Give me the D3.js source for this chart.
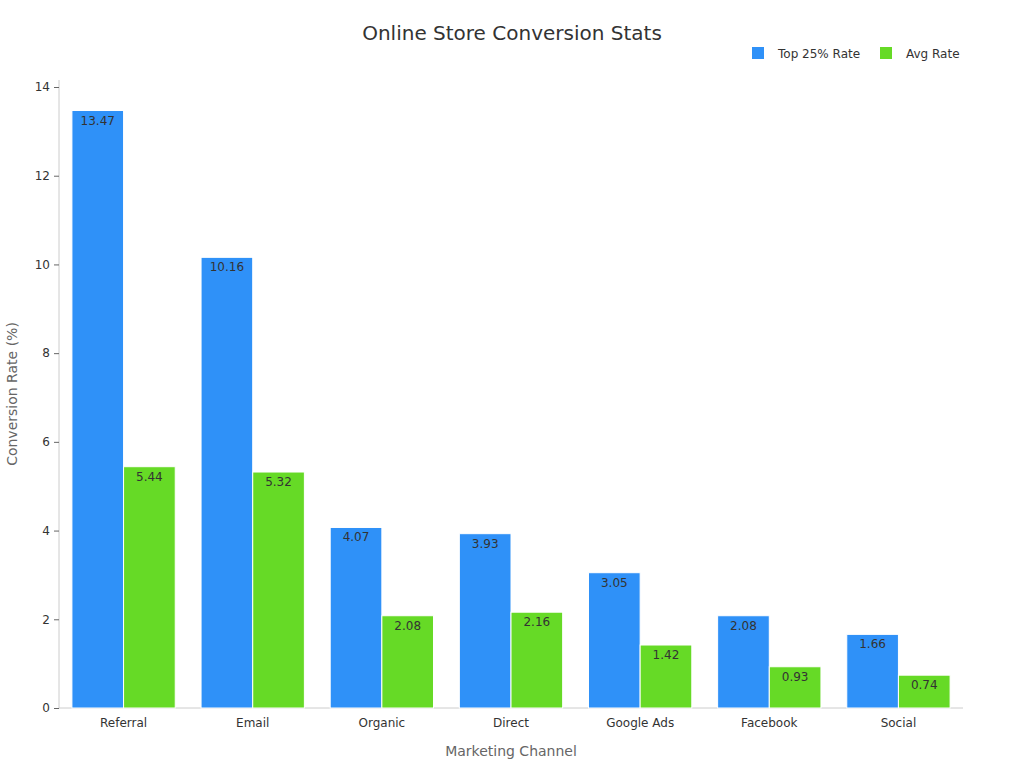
<!DOCTYPE html>
<html><head><meta charset="utf-8">
<script src="https://cdn.jsdelivr.net/npm/d3@7"></script>
<style>body{margin:0;background:#fff;font-family:"DejaVu Sans",sans-serif;}</style>
</head><body>
<script>
var channels = ['Referral', 'Email', 'Organic', 'Direct', 'Google Ads', 'Facebook', 'Social'];
var topRate = [13.47, 10.16, 4.07, 3.93, 3.05, 2.08, 1.66];
var avgRate = [5.44, 5.32, 2.08, 2.16, 1.42, 0.93, 0.74];
var yTicks = [0, 2, 4, 6, 8, 10, 12, 14];
var seriesNames = ['Top 25% Rate', 'Avg Rate'];
var colors = ['#2f91f8', '#66da26'];

var svg = d3.select('body').append('svg').attr('width', 1024).attr('height', 768);
var margin = {left: 59, right: 61, top: 80, bottom: 60};

var x = d3.scaleBand().domain(channels).range([59, 963]).paddingInner(0.2).paddingOuter(0.1);
var y = d3.scaleLinear().domain([0, 14]).range([708, 87]);
var sub = d3.scaleBand().domain([0, 1]).range([0, x.bandwidth()]);

svg.append('text').attr('x', 512).attr('y', 40).attr('text-anchor', 'middle')
  .attr('font-size', 20).attr('fill', '#333').text('Online Store Conversion Stats');

// axes
var ya = svg.append('g').attr('transform', 'translate(59,0)')
  .call(d3.axisLeft(y).tickValues(yTicks).tickSize(5).tickPadding(4));
ya.select('.domain').attr('d', 'M0,80V708').attr('stroke', '#ccc');
ya.selectAll('.tick line').attr('stroke', '#666');
ya.selectAll('text').attr('font-size', 12).attr('fill', '#333').attr('font-family', 'DejaVu Sans');

var xa = svg.append('g').attr('transform', 'translate(0,708)')
  .call(d3.axisBottom(x).tickSize(0).tickPadding(10));
xa.select('.domain').attr('d', 'M59,0H963').attr('stroke', '#ccc');
xa.selectAll('text').attr('font-size', 12).attr('fill', '#333').attr('font-family', 'DejaVu Sans');

svg.append('text').attr('x', 511).attr('y', 756).attr('text-anchor', 'middle')
  .attr('font-size', 14).attr('fill', '#666').text('Marketing Channel');
svg.append('text').attr('transform', 'translate(17,394) rotate(-90)').attr('text-anchor', 'middle')
  .attr('font-size', 14).attr('fill', '#666').text('Conversion Rate (%)');

// bars
[topRate, avgRate].forEach(function(vals, si) {
  var g = svg.append('g');
  g.selectAll('rect').data(vals).enter().append('rect')
    .attr('x', function(d, i) { return x(channels[i]) + sub(si); })
    .attr('y', function(d) { return y(d); })
    .attr('width', sub.bandwidth())
    .attr('height', function(d) { return y(0) - y(d); })
    .attr('fill', colors[si]).attr('stroke', '#fff').attr('stroke-width', 1);
  g.selectAll('text').data(vals).enter().append('text')
    .attr('x', function(d, i) { return x(channels[i]) + sub(si) + sub.bandwidth() / 2; })
    .attr('y', function(d) { return y(d) + 14; })
    .attr('text-anchor', 'middle').attr('font-size', 12).attr('fill', '#333')
    .text(function(d) { return d.toFixed(2); });
});

// legend
var lg = svg.append('g').selectAll('g').data(seriesNames).enter().append('g')
  .attr('transform', function(d, i) { return 'translate(' + [752, 747][i] * 0 + (752 + i * 128) + ',47)'; });
lg.append('rect').attr('width', 12).attr('height', 12).attr('fill', function(d, i) { return colors[i]; });
lg.append('text').attr('x', 26).attr('y', 11).attr('font-size', 12).attr('fill', '#333').text(function(d) { return d; });
</script>
</body></html>
